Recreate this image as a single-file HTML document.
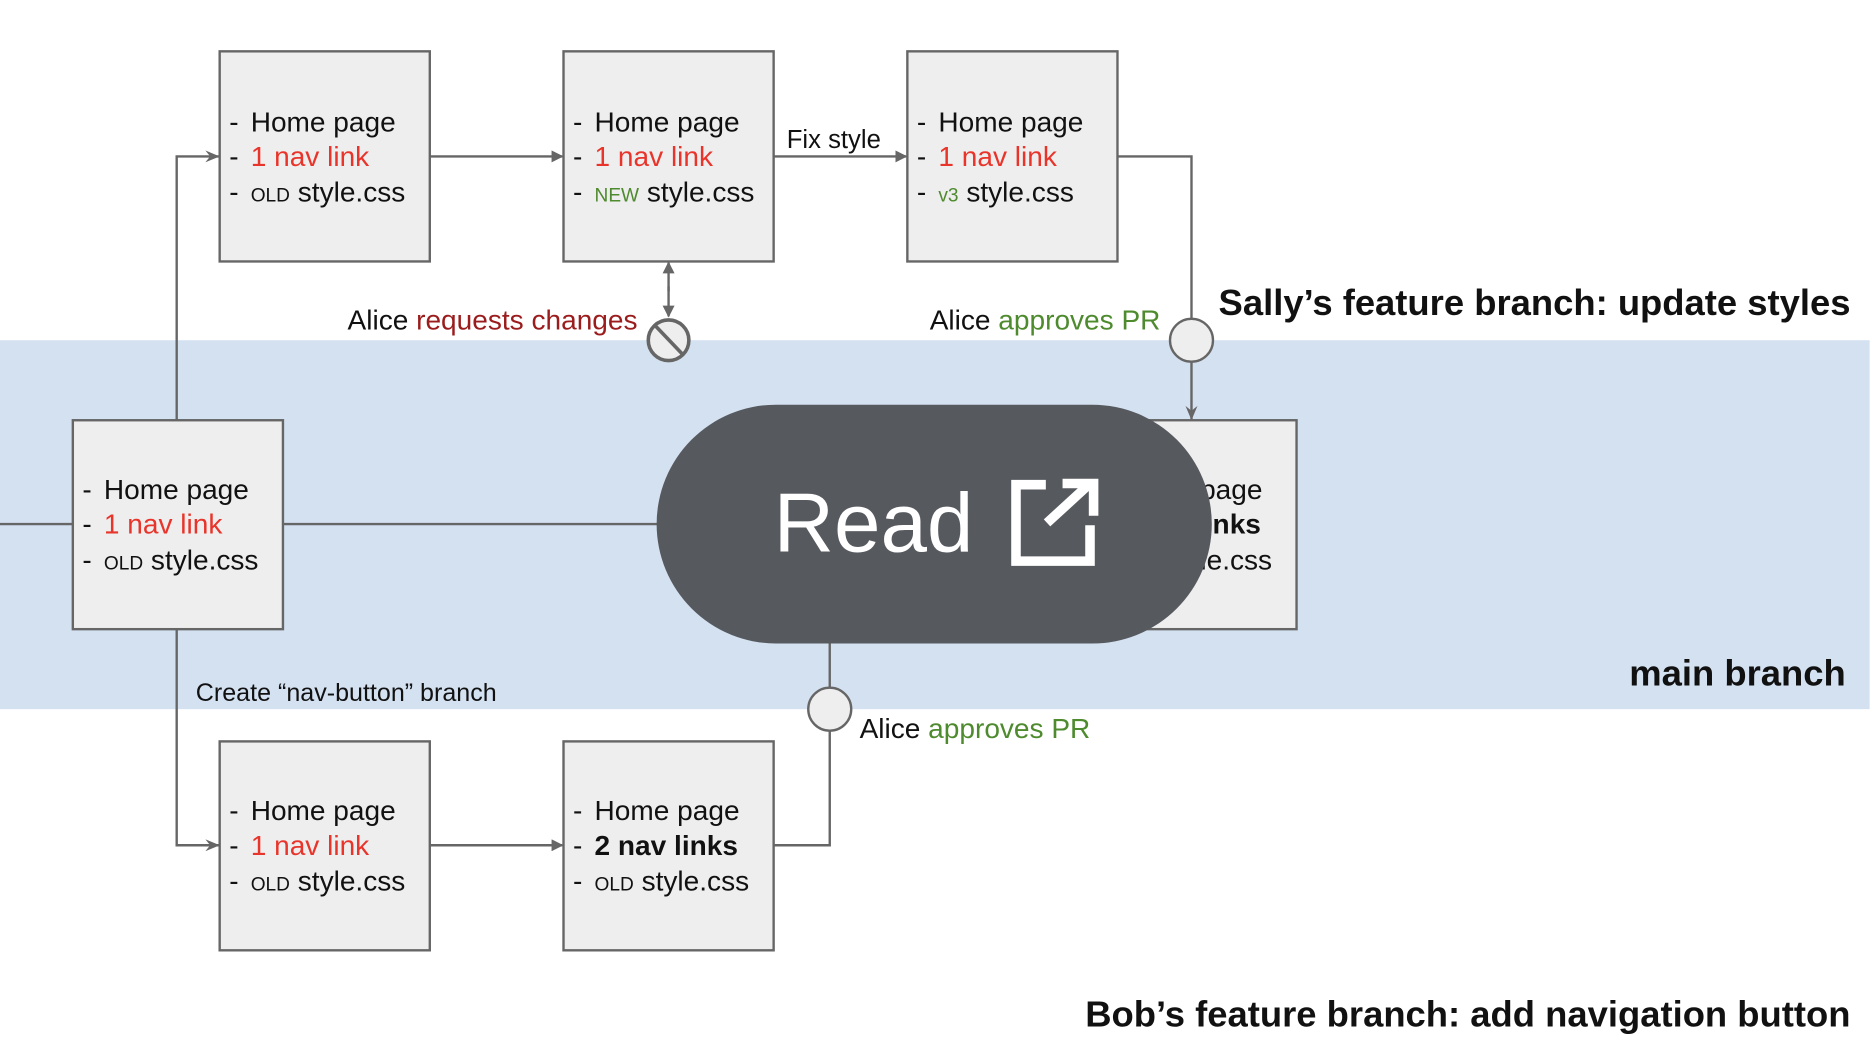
<!DOCTYPE html>
<html><head><meta charset="utf-8"><style>html,body{margin:0;padding:0;background:#fff}svg{display:block}</style></head>
<body>
<svg width="1872" height="1050" viewBox="0 0 1568 879.5" preserveAspectRatio="none" font-family="Liberation Sans, sans-serif">
<defs>
<marker id="a" markerWidth="10" markerHeight="10" refX="9" refY="5" orient="auto" markerUnits="userSpaceOnUse"><path d="M0,0 L10,5 L0,10 z" fill="#666"/></marker>
<marker id="b" markerWidth="12" markerHeight="10" refX="11" refY="5" orient="auto" markerUnits="userSpaceOnUse"><path d="M0,0 L12,5 L0,10 L4,5 z" fill="#666"/></marker>
</defs>
<rect x="0" y="0" width="1568" height="879.5" fill="#fff"/>
<rect x="0" y="285" width="1566" height="309" fill="#d4e1f1"/>
<g stroke="#666" stroke-width="2" fill="none">
<line x1="0" y1="439" x2="61" y2="439"/>
<line x1="237" y1="439" x2="560" y2="439"/>
<polyline points="148,352 148,131 183,131" marker-end="url(#b)"/>
<polyline points="148,527 148,708 183,708" marker-end="url(#b)"/>
<line x1="360" y1="131" x2="471" y2="131" marker-end="url(#a)"/>
<line x1="648" y1="131" x2="759" y2="131" marker-end="url(#a)"/>
<line x1="360" y1="708" x2="471" y2="708" marker-end="url(#a)"/>
<polyline points="936,131 998,131 998,267"/>
<line x1="998" y1="303" x2="998" y2="351" marker-end="url(#b)"/>
<line x1="560" y1="240" x2="560" y2="265" marker-end="url(#a)"/>
<line x1="560" y1="244" x2="560" y2="220" marker-end="url(#a)"/>
<polyline points="648,708 695,708 695,612"/>
<line x1="695" y1="576" x2="695" y2="539"/>
</g>
<g fill="#eeeeee" stroke="#666" stroke-width="2">
<rect x="184" y="43" width="176" height="176"/>
<rect x="472" y="43" width="176" height="176"/>
<rect x="760" y="43" width="176" height="176"/>
<rect x="61" y="352" width="176" height="175"/>
<rect x="910" y="352" width="176" height="175"/>
<rect x="184" y="621" width="176" height="175"/>
<rect x="472" y="621" width="176" height="175"/>
</g>
<g fill="#eeeeee" stroke="#666" stroke-width="2">
<circle cx="998" cy="285" r="18"/>
<circle cx="695" cy="594" r="18"/>
</g>
<circle cx="560" cy="285" r="17" fill="#eee" stroke="#666" stroke-width="3"/>
<line x1="549" y1="273" x2="572" y2="297" stroke="#666" stroke-width="3"/>
<g font-size="23.5" fill="#111">
<text x="192" y="110">-<tspan x="210">Home page</tspan></text>
<text x="192" y="139">-<tspan x="210" fill="#e8342a">1 nav link</tspan></text>
<text x="192" y="169">-<tspan x="210" font-size="16">OLD</tspan> style.css</text>
<text x="480" y="110">-<tspan x="498">Home page</tspan></text>
<text x="480" y="139">-<tspan x="498" fill="#e8342a">1 nav link</tspan></text>
<text x="480" y="169">-<tspan x="498" font-size="16" fill="#4e8a2e">NEW</tspan> style.css</text>
<text x="768" y="110">-<tspan x="786">Home page</tspan></text>
<text x="768" y="139">-<tspan x="786" fill="#e8342a">1 nav link</tspan></text>
<text x="768" y="169">-<tspan x="786" font-size="16" fill="#4e8a2e">v3</tspan> style.css</text>
<text x="69" y="418">-<tspan x="87">Home page</tspan></text>
<text x="69" y="447">-<tspan x="87" fill="#e8342a">1 nav link</tspan></text>
<text x="69" y="477">-<tspan x="87" font-size="16">OLD</tspan> style.css</text>
<text x="918" y="418">-<tspan x="936">Home page</tspan></text>
<text x="918" y="447">-<tspan x="936" font-weight="bold">2 nav links</tspan></text>
<text x="918" y="477">-<tspan x="936" font-size="16">OLD</tspan> style.css</text>
<text x="192" y="687">-<tspan x="210">Home page</tspan></text>
<text x="192" y="716">-<tspan x="210" fill="#e8342a">1 nav link</tspan></text>
<text x="192" y="746">-<tspan x="210" font-size="16">OLD</tspan> style.css</text>
<text x="480" y="687">-<tspan x="498">Home page</tspan></text>
<text x="480" y="716">-<tspan x="498" font-weight="bold">2 nav links</tspan></text>
<text x="480" y="746">-<tspan x="498" font-size="16">OLD</tspan> style.css</text>
<text x="534" y="276" text-anchor="end">Alice <tspan fill="#9b1c1c">requests changes</tspan></text>
<text x="972" y="276" text-anchor="end">Alice <tspan fill="#4e8a2e">approves PR</tspan></text>
<text x="720" y="618">Alice <tspan fill="#4e8a2e">approves PR</tspan></text>
</g>
<text x="659" y="124" font-size="21.5" fill="#111">Fix style</text>
<text x="164" y="587" font-size="21" fill="#111">Create “nav-button” branch</text>
<g font-size="30.5" font-weight="bold" fill="#111" text-anchor="end">
<text x="1550" y="264">Sally’s feature branch: update styles</text>
<text x="1546" y="574">main branch</text>
<text x="1550" y="860">Bob’s feature branch: add navigation button</text>
</g>
<rect x="550" y="339" width="465" height="200" rx="100" ry="100" fill="#56595e"/>
<text x="648" y="462" font-size="70" fill="#fff">Read</text>
<g fill="none" stroke="#fff" stroke-width="8">
<polyline points="876,406 851,406 851,470 913,470 913,440"/>
<line x1="877" y1="438" x2="913" y2="405"/>
<polyline points="890,405 916,405 916,432"/>
</g>
</svg>
</body></html>
